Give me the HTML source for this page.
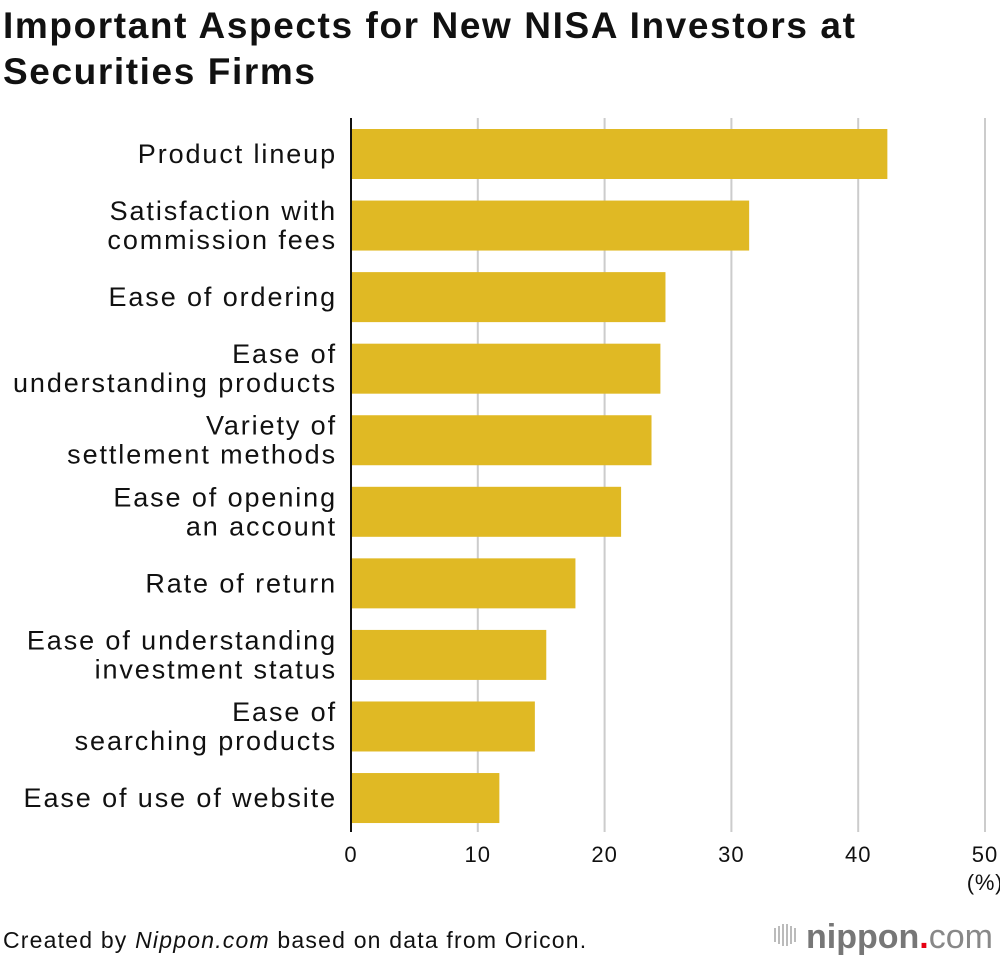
<!DOCTYPE html>
<html><head><meta charset="utf-8"><style>
body{margin:0;background:#fff;width:1000px;height:960px;overflow:hidden;font-family:"Liberation Sans",sans-serif}
</style></head><body>
<svg width="1000" height="960" xmlns="http://www.w3.org/2000/svg" font-family="Liberation Sans, sans-serif">
<text x="3" y="38" font-size="37" letter-spacing="1.6" font-weight="bold" fill="#111">Important Aspects for New NISA Investors at</text>
<text x="3" y="84" font-size="37" letter-spacing="1.6" font-weight="bold" fill="#111">Securities Firms</text>
<g id="grid"></g><g id="bars"></g><g id="labels"></g><g id="ticks"></g>
<line x1="351" y1="118" x2="351" y2="832" stroke="#111" stroke-width="2"/>
<text x="985" y="890" font-size="22" letter-spacing="0.8" text-anchor="middle" fill="#111">(%)</text>
<text x="3" y="948" font-size="23" letter-spacing="1.2" fill="#111">Created by <tspan font-style="italic">Nippon.com</tspan> based on data from Oricon.</text>
<g>
<g fill="#bbb"><rect x="774" y="928" width="2" height="14"/><rect x="778" y="926" width="2" height="18"/><rect x="782" y="924" width="2" height="22"/><rect x="786" y="924" width="2" height="22"/><rect x="790" y="926" width="2" height="18"/><rect x="794" y="928" width="2" height="14"/></g>
<text x="806" y="948" font-size="34" fill="#777" font-weight="bold">nippon<tspan fill="#e60012">.</tspan><tspan font-weight="normal" fill="#888">com</tspan></text>
</g>
</svg>
<script>
const categories=[["Product lineup"],["Satisfaction with","commission fees"],["Ease of ordering"],["Ease of","understanding products"],["Variety of","settlement methods"],["Ease of opening","an account"],["Rate of return"],["Ease of understanding","investment status"],["Ease of","searching products"],["Ease of use of website"]];
const values=[42.3,31.4,24.8,24.4,23.7,21.3,17.7,15.4,14.5,11.7];
const tickValues=[0,10,20,30,40,50];
const NS="http://www.w3.org/2000/svg";
const x=v=>351+v*12.68;
const y=i=>129+i*71.56;
function mk(t,a,p){const e=document.createElementNS(NS,t);for(const k in a)e.setAttribute(k,a[k]);p.appendChild(e);return e;}
const G=document.getElementById('grid'),B=document.getElementById('bars'),L=document.getElementById('labels'),T=document.getElementById('ticks');
tickValues.forEach(v=>{
 if(v>0){const l=mk('line',{x1:x(v),x2:x(v),y1:118,y2:832,stroke:'#ccc','stroke-width':2},G);
 
 }
 const t=mk('text',{x:x(v),y:862,'font-size':22,'letter-spacing':1,'text-anchor':'middle',fill:'#111'},T);t.textContent=v;
 
 
});
values.forEach((v,i)=>{
 const r=mk('rect',{x:351,y:y(i),width:x(v)-351,height:50,fill:'#e0b924'},B);
 
 
 const lines=categories[i];const cy=y(i)+25;
 const t=mk('text',{'font-size':27,'letter-spacing':1.9,'text-anchor':'end',fill:'#111'},L);
 
 
 lines.forEach((s,j)=>{const ts=mk('tspan',{x:337,y:cy+9+(j-(lines.length-1)/2)*29},t);ts.textContent=s;});
});
</script>
</body></html>
